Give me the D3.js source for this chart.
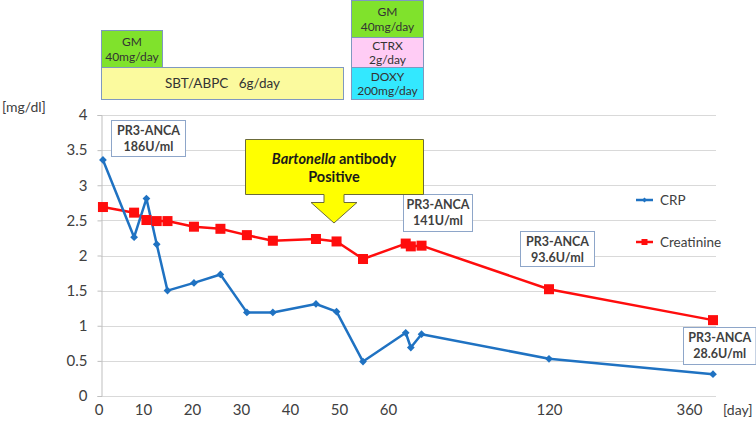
<!DOCTYPE html>
<html><head><meta charset="utf-8">
<script src="https://cdn.jsdelivr.net/npm/d3@7"></script>
<style>
html,body{margin:0;padding:0;background:#fff;}
svg{display:block;font-family:Lato,"Open Sans",sans-serif;}
</style></head>
<body>
<svg id="c" width="756" height="421"></svg>
<script>
// ---- data ----
const days = [1, 8, 10.7, 12.8, 15, 20.4, 25.8, 31.2, 36.5, 45.3, 49.5, 54.9, 66.6, 68.5, 72.5, 120, 360];
const crp = [3.36, 2.26, 2.81, 2.16, 1.50, 1.61, 1.73, 1.19, 1.19, 1.31, 1.20, 0.49, 0.90, 0.69, 0.88, 0.53, 0.31];
const creatinine = [2.69, 2.61, 2.505, 2.49, 2.49, 2.41, 2.38, 2.29, 2.21, 2.235, 2.20, 1.95, 2.17, 2.13, 2.14, 1.52, 1.08];
const xTicks = [0, 10, 20, 30, 40, 50, 60, 120, 360];
const yTicks = [0, 0.5, 1, 1.5, 2, 2.5, 3, 3.5, 4];
const seriesNames = ["CRP", "Creatinine"];
const ancaLabels = ["186U/ml", "141U/ml", "93.6U/ml", "28.6U/ml"];

const svg = d3.select("#c");
const x = d3.scaleLinear().domain([0, 10, 60, 120, 360]).range([98.5, 143, 388, 549, 713]);
const y = d3.scaleLinear().domain([0, 4]).range([396, 115]);
const plotL = 101, plotR = 716;
const txt = "#404040";

// gridlines
svg.append("g").selectAll("line").data(yTicks).join("line")
  .attr("x1", plotL).attr("x2", plotR)
  .attr("y1", d => Math.round(y(d)) + 0.5).attr("y2", d => Math.round(y(d)) + 0.5)
  .attr("stroke", "#d9d9d9").attr("stroke-width", 1);

// y axis
const ya = svg.append("g").attr("transform", `translate(${plotL + 0.5},0)`)
  .call(d3.axisLeft(y).tickValues(yTicks).tickSize(4).tickPadding(10).tickFormat(d3.format("")));
ya.select(".domain").attr("stroke", "#bfbfbf");
ya.selectAll(".tick line").attr("stroke", "#bfbfbf");
ya.selectAll("text").attr("font-size", 15).attr("fill", txt).attr("font-family", "Lato");

// x axis labels
const xa = svg.append("g").attr("transform", `translate(0,396)`)
  .call(d3.axisBottom(x).tickValues(xTicks).tickSize(0).tickPadding(8).tickFormat(d3.format("d")));
xa.select(".domain").remove();
xa.selectAll("text").attr("font-size", 15).attr("fill", txt).attr("font-family", "Lato");
xa.selectAll(".tick").filter(d => d === 360).select("text").attr("dx", -24);

// unit labels
svg.append("text").attr("x", 2).attr("y", 112).attr("font-size", 14).attr("fill", txt).text("[mg/dl]");
svg.append("text").attr("x", 723).attr("y", 415).attr("font-size", 14).attr("fill", txt).text("[day]");

// lines
const crpColor = "#1f72c2", crColor = "#ff0d0d";
const lineGen = vals => d3.line().x((d, i) => x(days[i])).y(d => y(d))(vals);
svg.append("path").attr("d", lineGen(creatinine)).attr("fill", "none").attr("stroke", crColor).attr("stroke-width", 2.5).attr("stroke-linejoin", "round");
svg.append("path").attr("d", lineGen(crp)).attr("fill", "none").attr("stroke", crpColor).attr("stroke-width", 2.5).attr("stroke-linejoin", "round");

// markers
svg.append("g").selectAll("rect").data(creatinine).join("rect")
  .attr("x", (d, i) => x(days[i]) - 5).attr("y", d => y(d) - 5)
  .attr("width", 10).attr("height", 10).attr("fill", crColor);
svg.append("g").selectAll("path").data(crp).join("path")
  .attr("d", d3.symbol().type(d3.symbolSquare).size(30)).attr("fill", crpColor)
  .attr("transform", (d, i) => `translate(${x(days[i])},${y(d)}) rotate(45)`);

// legend
const leg = svg.append("g");
[[crpColor, 200], [crColor, 242]].forEach(([c, ly], k) => {
  leg.append("line").attr("x1", 636).attr("x2", 653).attr("y1", ly).attr("y2", ly).attr("stroke", c).attr("stroke-width", 2.5);
  if (k === 0) leg.append("path").attr("d", d3.symbol().type(d3.symbolSquare).size(12)).attr("fill", c).attr("transform", `translate(644.5,${ly}) rotate(45)`);
  else leg.append("rect").attr("x", 641.5).attr("y", ly - 3).attr("width", 6).attr("height", 6).attr("fill", c);
  leg.append("text").attr("x", 660).attr("y", ly + 5).attr("font-size", 13.5).attr("fill", txt).text(seriesNames[k]);
});

// PR3-ANCA boxes
const boxes = [
  {x: 111, y: 120, w: 74, h: 36},
  {x: 403, y: 194, w: 69, h: 37},
  {x: 520, y: 231, w: 74, h: 35},
  {x: 683, y: 327, w: 72.5, h: 37}
];
boxes.forEach((b, i) => {
  const g = svg.append("g");
  g.append("rect").attr("x", b.x + 0.5).attr("y", b.y + 0.5).attr("width", b.w).attr("height", b.h)
    .attr("fill", "#fff").attr("stroke", "#8ea6c9").attr("stroke-width", 1);
  g.append("text").attr("x", b.x + b.w / 2 + 0.5).attr("y", b.y + 15).attr("text-anchor", "middle")
    .attr("font-size", 12.5).attr("font-weight", "bold").attr("fill", txt).text("PR3-ANCA");
  g.append("text").attr("x", b.x + b.w / 2 + 0.5).attr("y", b.y + 31).attr("text-anchor", "middle")
    .attr("font-size", 12.5).attr("font-weight", "bold").attr("fill", txt).text(ancaLabels[i]);
});

// Bartonella callout
const cx = 334;
const callout = `M245.5,139.5 H423.5 V194.5 H344 V202.5 H357 L${cx},223 L311,202.5 H324 V194.5 H245.5 Z`;
svg.append("path").attr("d", callout).attr("fill", "#ffff00").attr("stroke", "#6b6b3a").attr("stroke-width", 1);
const t1 = svg.append("text").attr("x", cx).attr("y", 164).attr("text-anchor", "middle").attr("font-size", 14.5).attr("font-weight", "bold").attr("fill", "#1a1a1a");
t1.append("tspan").attr("font-style", "italic").text("Bartonella");
t1.append("tspan").text(" antibody");
svg.append("text").attr("x", cx).attr("y", 182).attr("text-anchor", "middle").attr("font-size", 14.5).attr("font-weight", "bold").attr("fill", "#1a1a1a").text("Positive");

// treatment boxes
const tb = [
  {x: 101, y: 30, w: 61, h: 37, fill: "#80e22c", lines: ["GM", "40mg/day"], fs: 12},
  {x: 101, y: 67, w: 242, h: 32, fill: "#fbfa9e", lines: ["SBT/ABPC\u00a0\u00a0\u00a06g/day"], fs: 13.5},
  {x: 351, y: 0, w: 72, h: 37, fill: "#80e22c", lines: ["GM", "40mg/day"], fs: 12},
  {x: 351, y: 37, w: 72, h: 30, fill: "#ffccf5", lines: ["CTRX", "2g/day"], fs: 12},
  {x: 351, y: 67, w: 72, h: 32, fill: "#33e8ff", lines: ["DOXY", "200mg/day"], fs: 12}
];
tb.forEach(b => {
  svg.append("rect").attr("x", b.x + 0.5).attr("y", b.y + 0.5).attr("width", b.w).attr("height", b.h)
    .attr("fill", b.fill).attr("stroke", "#7f98c0").attr("stroke-width", 1);
  const n = b.lines.length, lh = 14.5;
  b.lines.forEach((s, k) => {
    svg.append("text").attr("x", b.x + b.w / 2 + 0.5)
      .attr("y", b.y + b.h / 2 + (k - (n - 1) / 2) * lh + b.fs * 0.36 + 0.5)
      .attr("text-anchor", "middle").attr("font-size", b.fs).attr("fill", "#333").text(s);
  });
});
</script>
</body></html>
